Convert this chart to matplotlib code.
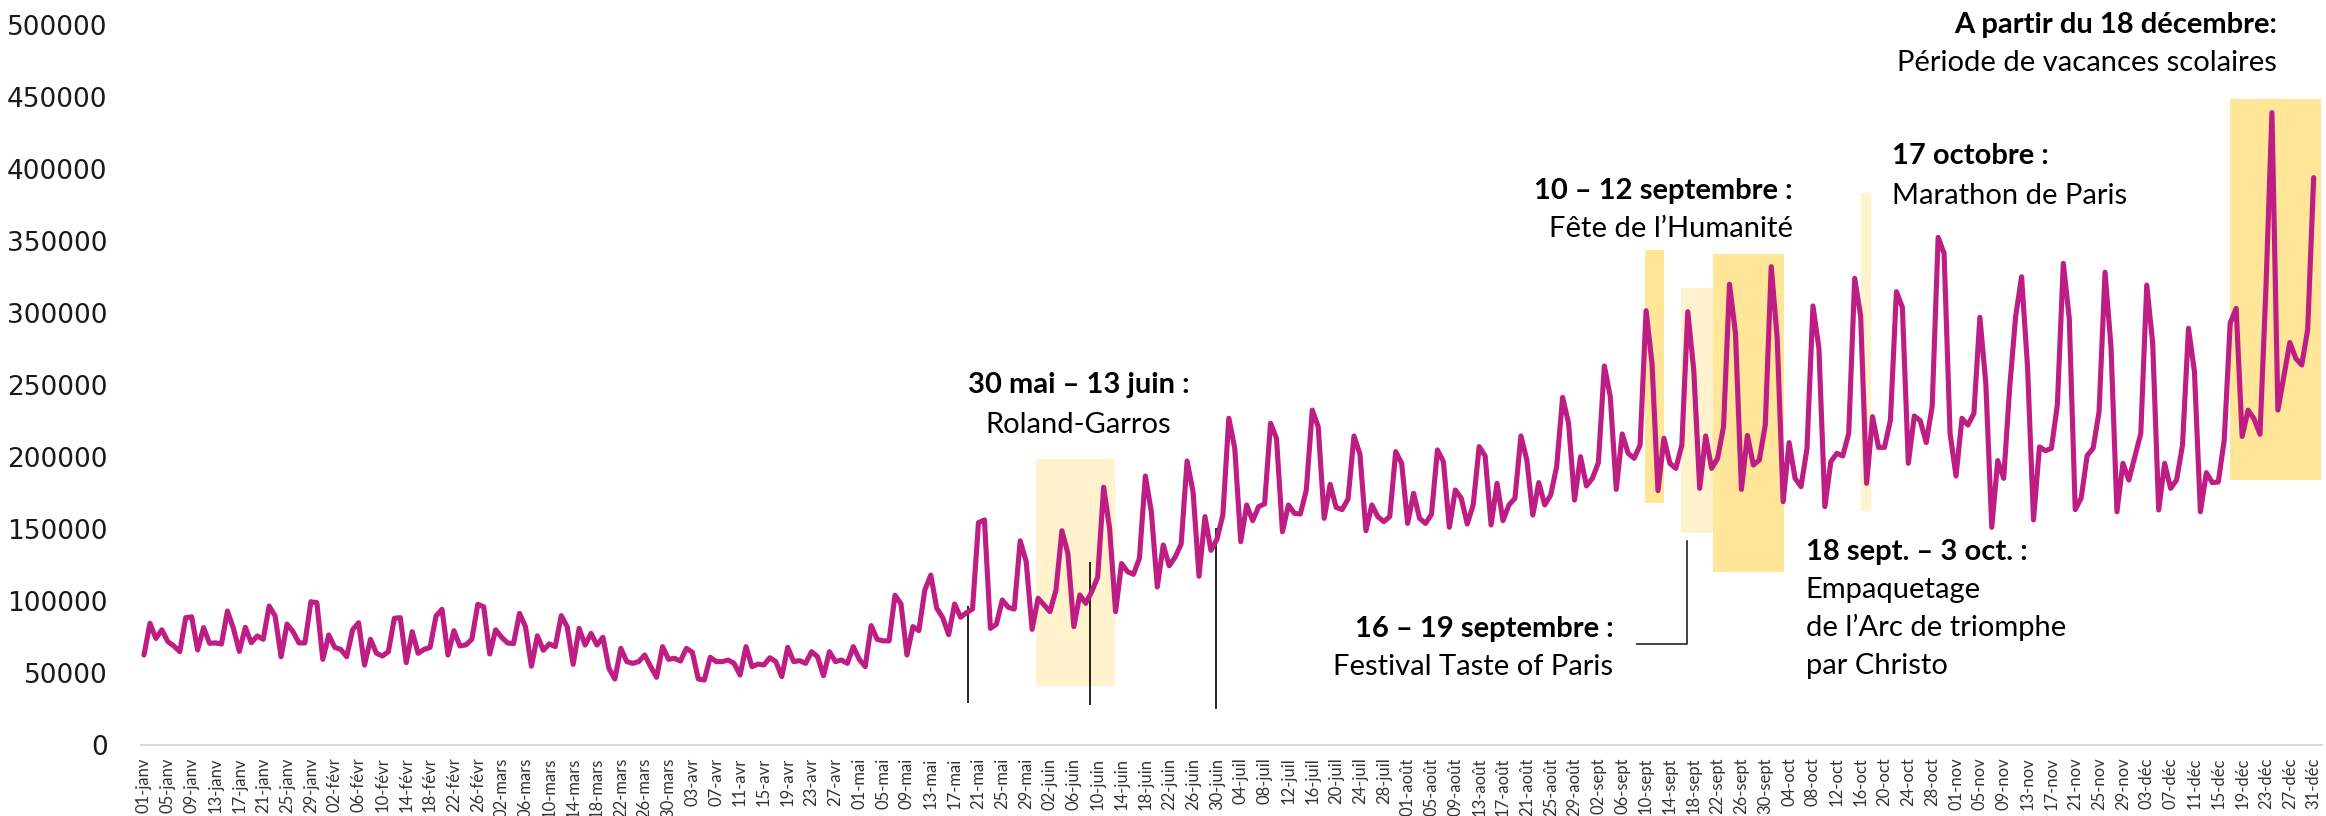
import numpy as np
import pandas as pd
import matplotlib
matplotlib.use('Agg')
import matplotlib.pyplot as plt

# données journalières 2021 (milliers)
mois = ['janv', 'févr', 'mars', 'avr', 'mai', 'juin',
        'juil', 'août', 'sept', 'oct', 'nov', 'déc']
jours = pd.date_range('2021-01-01', '2021-12-31', freq='D')

valeurs_k = [
    62.5, 84.5, 74, 80, 71.8, 68.8, 64.8, 88.4, 89, 66,
    81.5, 70.6, 70.9, 70.1, 93, 81, 65, 81.7, 71, 75.7,
    73.4, 96.5, 89.6, 61.3, 84, 78.7, 70.9, 70.9, 99.5, 98.8,
    59.5, 76.4, 67.8, 66.4, 61.3, 80, 84.9, 55.5, 73.4, 63.7,
    61.8, 64.8, 88, 88.4, 57.2, 78.7, 63.7, 66.4, 67.8, 89.6,
    94.2, 62.5, 79.4, 68.8, 69.5, 73.4, 97.7, 96, 63.2, 80,
    74.8, 70.9, 70.4, 91.4, 82.2, 54.7, 75.8, 65.8, 70.2, 68.3,
    89.8, 82.2, 56, 81, 69.4, 77.5, 69.4, 74.8, 53.2, 45.8,
    67.1, 57.9, 56.7, 57.9, 62.5, 54.4, 47, 68.3, 59.5, 60.2,
    58.3, 67.1, 64.4, 45.8, 45.1, 60.9, 57.9, 57.9, 59, 56.7,
    48.6, 68.3, 54.4, 56.2, 55.6, 60.6, 57.9, 47.5, 67.8, 57.9,
    58.6, 56.7, 64.8, 61.3, 48.1, 64.8, 57.9, 59, 56.7, 68.3,
    59.5, 54.4, 82.9, 73.4, 72.3, 72.3, 104, 98, 62.5, 82.2,
    79.4, 107.6, 118, 95, 88.5, 76.6, 97.9, 88.7, 91.9, 94.4,
    154.4, 156.3, 81, 83.8, 100.7, 95.6, 94.4, 141.8, 127.5, 80.3,
    101.9, 97.2, 92.6, 107.6, 148.8, 133.1, 82.2, 104.2, 98.4, 106.5,
    116.5, 179, 150.5, 92.6, 126, 120.4, 118.5, 129.6, 186.8, 162,
    109.7, 138.9, 124.5, 130.5, 139.5, 197.2, 175.9, 117.2, 158.6, 135.2,
    142.8, 159.7, 226.9, 206, 141.2, 166.7, 155.8, 165.5, 167.4, 223.4,
    213, 148.1, 166.7, 160.9, 160.4, 177, 232.6, 221, 157.4, 181,
    165, 163.5, 170.8, 214.6, 202, 148.8, 166.7, 158.6, 155.1, 158.6,
    203.7, 195.6, 153.9, 174.8, 157.4, 153.9, 160.2, 204.9, 196.8, 151.2,
    177.1, 171.3, 153.5, 166.7, 207.2, 200.7, 152.8, 181.7, 155.8, 166.7,
    171.3, 214.6, 197.9, 159.7, 182.2, 166.7, 173.6, 193.3, 241.4, 223.4,
    170.1, 200.2, 179.9, 185.2, 196, 263.2, 241.9, 177.5, 216, 202.5,
    199.1, 208.3, 301.6, 265, 176.6, 213, 195.6, 192.1, 208.3, 300.9,
    260.4, 178.2, 214.6, 192.1, 199.1, 221, 320, 286, 177.5, 215,
    194.4, 197.9, 222.2, 332.2, 282.4, 169, 210, 185.2, 179.4, 206,
    304.9, 275.5, 165.5, 196.8, 202.5, 200.7, 216.4, 324.1, 297.9, 181.7,
    228, 206.7, 206.7, 225.7, 314.8, 303.9, 195.6, 228.5, 225.2, 210,
    235, 352.5, 341.4, 216.4, 186.8, 226.9, 222.2, 230.3, 297, 251.2,
    151.2, 197.5, 185.2, 248, 297.5, 325.2, 262.7, 156.3, 207, 204.4,
    206, 236.1, 334.5, 296.3, 163.5, 171.5, 201, 206, 231.5, 328.3,
    276.6, 162, 195.6, 184, 200.2, 216.4, 319.4, 278.9, 163.2, 195.6,
    178.2, 184, 208.3, 289.4, 259.3, 162, 189.1, 182.2, 182.7, 211.8,
    293, 303.2, 214.3, 232.5, 226.5, 215.8, 318, 439.1, 232.6, 256,
    279.5, 268.5, 263.9, 288.5, 394,
]
valeurs = np.array(valeurs_k) * 1000
x = np.arange(1, len(valeurs) + 1)

# périodes surlignées : début, fin (jour), bas, haut, couleur
periodes = [
    (150.6, 163.9, 41200, 198600, '#FFF2CC'),   # Roland-Garros
    (252.8, 256.0, 168000, 343700, '#FFE699'),  # Fête de l'Huma
    (258.8, 264.5, 146900, 317300, '#FFF2CC'),  # Taste of Paris
    (264.3, 276.2, 120400, 340800, '#FFE699'),  # Arc de triomphe
    (289.1, 290.7, 162800, 383400, '#FFF2CC'),  # Marathon
    (350.9, 366.2, 184300, 448600, '#FFE699'),  # vacances
]
traits = [(139.2, 29000, 96500), (159.7, 27800, 127300), (180.9, 24800, 150600)]

# textes : x, y, texte, gras, alignement
textes = [
    (157.8, 244200, '30 mai – 13 juin :', True, 'center'),
    (157.8, 216900, 'Roland-Garros', False, 'center'),
    (277.6, 379000, '10 – 12 septembre :', True, 'right'),
    (277.6, 353000, 'Fête de l’Humanité', False, 'right'),
    (294.2, 403300, '17 octobre :', True, 'left'),
    (294.2, 375700, 'Marathon de Paris', False, 'left'),
    (358.8, 494700, 'A partir du 18 décembre:', True, 'right'),
    (358.8, 468300, 'Période de vacances scolaires', False, 'right'),
    (247.5, 75000, '16 – 19 septembre :', True, 'right'),
    (247.5, 48400, 'Festival Taste of Paris', False, 'right'),
    (279.8, 128500, '18 sept. – 3 oct. :', True, 'left'),
    (279.8, 102200, 'Empaquetage', False, 'left'),
    (279.8, 75400, 'de l’Arc de triomphe', False, 'left'),
    (279.8, 49200, 'par Christo', False, 'left'),
]

fig = plt.figure(figsize=(23.26, 8.16), dpi=100)
ax = fig.add_axes([141 / 2326, 71 / 816, 2181 / 2326, 720 / 816])

for d0, d1, y0, y1, c in periodes:
    ax.fill_between([d0, d1], y0, y1, color=c, lw=0, zorder=1)

for d, y0, y1 in traits:
    ax.vlines(d, y0, y1, color='black', lw=1.2, zorder=2)
ax.plot([251.4, 259.9, 259.9], [69900, 69900, 141800], color='#222222', lw=1.2, zorder=2)

ax.plot(x, valeurs, color='#BE1E84', lw=3.7, solid_joinstyle='round',
        solid_capstyle='round', zorder=3)

for tx, ty, s, gras, ha in textes:
    ax.text(tx, ty, s, ha=ha, va='baseline', fontsize=21, family='Lato',
            fontweight='bold' if gras else 'normal', color='black', zorder=4)

ax.set_xlim(0.5, 366.4)
ax.set_ylim(0, 500000)

pos = x[::4]
etiquettes = ['%02d-%s' % (j.day, mois[j.month - 1]) for j in jours[::4]]
ax.set_xticks(pos)
ax.set_xticklabels(etiquettes, rotation=90, fontsize=12, family='Lato', color='#333333')
ax.tick_params(axis='x', length=0, pad=9)

ax.set_yticks(range(0, 500001, 50000))
ax.set_yticklabels([str(v) for v in range(0, 500001, 50000)], fontsize=19,
                   family='DejaVu Sans', color='#1a1a1a')
ax.tick_params(axis='y', length=0, pad=24)

for s in ['top', 'right', 'left']:
    ax.spines[s].set_visible(False)
ax.spines['bottom'].set_color('#D9D9D9')
ax.spines['bottom'].set_linewidth(1.5)

fig.savefig('out.png', dpi=100)
